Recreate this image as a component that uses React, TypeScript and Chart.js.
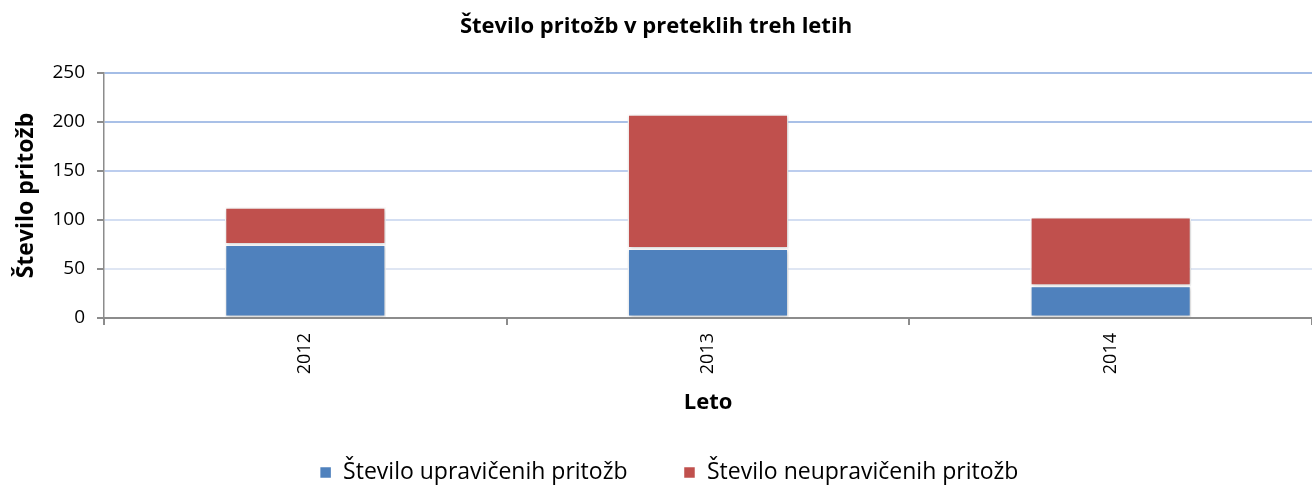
import React, { useEffect, useRef } from "react";
import { Chart, registerables } from "chart.js";

Chart.register(...registerables);

const categories = ["2012", "2013", "2014"];
const upraviceneValues = [75, 71, 33];
const neupraviceneValues = [38, 137, 70];
const seriesLabels = ["Število upravičenih pritožb", "Število neupravičenih pritožb"];
const chartTitle = "Število pritožb v preteklih treh letih";
const yTitle = "Število pritožb";
const xTitle = "Leto";

const FONT = "'Open Sans', 'DejaVu Sans', sans-serif";

const gridColors: Record<number, string> = {
  0: "rgba(0,0,0,0)",
  50: "#dfe6f3",
  100: "#d3def2",
  150: "#bccdee",
  200: "#a9c0e7",
  250: "#a4bde6",
};

const shadowPlugin = {
  id: "barShadow",
  beforeDatasetsDraw(chart: any) {
    const ctx = chart.ctx;
    ctx.save();
    ctx.shadowColor = "rgba(0,0,0,0.22)";
    ctx.shadowBlur = 4;
    ctx.shadowOffsetX = 1;
    ctx.shadowOffsetY = 1;
  },
  afterDatasetsDraw(chart: any) {
    chart.ctx.restore();
  },
};

// nudge the legend box slightly (the original legend is offset to the right)
const legendNudge = {
  id: "legendNudge",
  afterLayout(chart: any) {
    const l = chart.legend;
    if (!l) return;
    l.left += 13;
    l.right += 13;
    l.top += 6;
    l.bottom += 6;
  },
};

export default function App() {
  const canvasRef = useRef<HTMLCanvasElement | null>(null);

  useEffect(() => {
    if (!canvasRef.current) return;
    const chart = new Chart(canvasRef.current, {
      type: "bar",
      data: {
        labels: categories,
        datasets: [
          {
            label: seriesLabels[0],
            data: upraviceneValues,
            backgroundColor: "#4f81bd",
            borderColor: "#ffffff",
            borderWidth: 1.5,
            borderSkipped: false,
          },
          {
            label: seriesLabels[1],
            data: neupraviceneValues,
            backgroundColor: "#c0504d",
            borderColor: "#ffffff",
            borderWidth: 1.5,
            borderSkipped: false,
          },
        ],
      },
      options: {
        animation: false,
        responsive: false,
        maintainAspectRatio: false,
        datasets: {
          bar: { barPercentage: 0.4, categoryPercentage: 1 },
        },
        layout: { padding: { left: 0, right: 0, top: 0, bottom: 0 } },
        plugins: {
          title: {
            display: true,
            text: chartTitle,
            color: "#000",
            font: { family: FONT, size: 22, weight: "bold" },
            padding: { top: 14, bottom: 32.6 },
          },
          legend: {
            display: true,
            position: "bottom",
            labels: {
              color: "#000",
              boxWidth: 12,
              boxHeight: 12,
              padding: 56,
              font: { family: FONT, size: 23 },
            },
          },
          tooltip: { enabled: false },
        },
        scales: {
          x: {
            stacked: true,
            afterFit(scale: any) {
              scale.height = 81;
            },
            grid: {
              display: true,
              drawOnChartArea: false,
              drawTicks: true,
              tickLength: 7,
              color: "#8c8c8c",
              lineWidth: 2,
              offset: true,
            },
            border: { display: true, color: "#8c8c8c", width: 2 },
            ticks: {
              color: "#000",
              minRotation: 90,
              maxRotation: 90,
              padding: 8,
              font: { family: FONT, size: 18 },
            },
            title: {
              display: true,
              text: xTitle,
              color: "#000",
              font: { family: FONT, size: 22, weight: "bold" },
              padding: { top: 0, bottom: -17.2 },
            },
          },
          y: {
            stacked: true,
            min: 0,
            max: 250,
            afterFit(scale: any) {
              scale.width = 104;
            },
            grid: {
              color: (c: any) => gridColors[c.tick?.value] ?? "#d3def2",
              lineWidth: 2,
              tickColor: "#8c8c8c",
              tickLength: 7,
              drawTicks: true,
            },
            border: { display: true, color: "#8c8c8c", width: 1.5 },
            ticks: {
              stepSize: 50,
              color: "#000",
              padding: 12,
              font: { family: FONT, size: 19 },
            },
            title: {
              display: true,
              text: yTitle,
              color: "#000",
              font: { family: FONT, size: 23, weight: "bold" },
              padding: { top: 13, bottom: 0 },
            },
          },
        },
      },
      plugins: [shadowPlugin, legendNudge],
    });
    return () => chart.destroy();
  }, []);

  return (
    <div style={{ position: "fixed", left: 0, top: 0, width: 1312, height: 488, background: "#fff" }}>
      <canvas ref={canvasRef} width={1312} height={488} style={{ width: 1312, height: 488 }} />
    </div>
  );
}
